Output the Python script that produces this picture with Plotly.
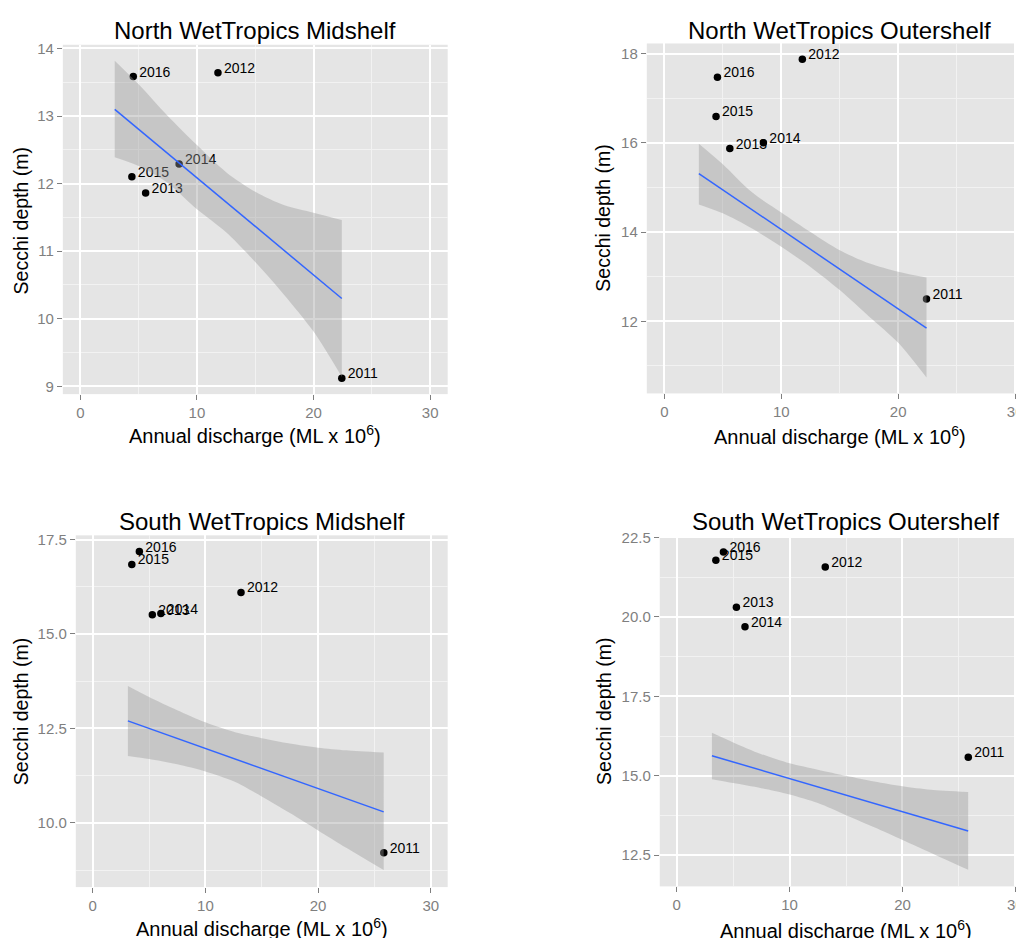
import plotly.graph_objects as go

# page body has an 8px margin; figure sized so that the page fills 1024x938
OFF = 8
WF, HF = 1024 - OFF, 938 - OFF

years = ["2011", "2012", "2013", "2014", "2015", "2016"]

# Annual discharge (ML x 10^6)
north_discharge = [22.42, 11.8, 5.6, 8.47, 4.42, 4.54]
south_discharge = [25.83, 13.16, 5.29, 6.05, 3.47, 4.14]

# Secchi depth (m)
nw_mid_secchi = [9.12, 13.64, 11.86, 12.29, 12.10, 13.585]
nw_outer_secchi = [12.50, 17.87, 15.87, 16.00, 16.59, 17.47]
sw_mid_secchi = [9.21, 16.10, 15.51, 15.54, 16.84, 17.18]
sw_outer_secchi = [15.58, 21.57, 20.30, 19.69, 21.78, 22.04]

# Linear fit lines (end points)
north_fit_x = [2.95, 22.42]
south_fit_x = [3.12, 25.82]
nw_mid_fit = [13.10, 10.30]
nw_outer_fit = [15.31, 11.85]
sw_mid_fit = [12.70, 10.29]
sw_outer_fit = [15.63, 13.26]

# Confidence ribbons
north_band_x = [2.95, 5, 7.5, 10, 12.5, 15, 17.5, 20, 22.42]
nw_mid_upper = [13.82, 13.47, 13.00, 12.57, 12.17, 11.88, 11.68, 11.57, 11.46]
nw_mid_lower = [12.39, 12.26, 12.01, 11.62, 11.28, 10.84, 10.35, 9.81, 9.14]
nw_outer_upper = [15.98, 15.52, 14.89, 14.44, 14.00, 13.59, 13.30, 13.11, 12.98]
nw_outer_lower = [14.62, 14.42, 14.08, 13.67, 13.22, 12.70, 12.11, 11.52, 10.74]

south_band_x = [3.12, 5, 7.5, 10, 12.5, 15, 17.5, 20, 22.5, 25.82]
sw_mid_upper = [13.62, 13.33, 12.98, 12.66, 12.41, 12.24, 12.10, 11.99, 11.92, 11.86]
sw_mid_lower = [11.77, 11.69, 11.55, 11.36, 11.10, 10.70, 10.26, 9.80, 9.34, 8.75]
sw_outer_upper = [16.35, 16.05, 15.68, 15.39, 15.19, 15.00, 14.82, 14.67, 14.56, 14.49]
sw_outer_lower = [14.89, 14.77, 14.61, 14.41, 14.14, 13.76, 13.38, 12.98, 12.58, 12.04]

x_ticks = [0, 10, 20, 30]

FONT = "Liberation Sans, Arial, Helvetica, sans-serif"
GREY_TXT = "#7F7F7F"
LABEL_FS = 14


def px_x(v):
    return (v - OFF) / WF


def px_y(v):
    return 1 - (v - OFF) / HF


panels = [
    dict(title="North WetTropics Midshelf", x=north_discharge, y=nw_mid_secchi,
         fx=north_fit_x, fy=nw_mid_fit, bx=north_band_x, bu=nw_mid_upper, bl=nw_mid_lower,
         box=(63, 38, 449, 390), xr=[-1.5, 31.5], yr=[8.885, 14.055],
         dtick=1, fmt="d", tcx=256, tcy=23.3, xtx=256, xty=431, ytx=21, yty=215),
    dict(title="North WetTropics Outershelf", x=north_discharge, y=nw_outer_secchi,
         fx=north_fit_x, fy=nw_outer_fit, bx=north_band_x, bu=nw_outer_upper, bl=nw_outer_lower,
         box=(648.7, 36.7, 1024, 389.3), xr=[-1.5, 30.5], yr=[10.385, 18.225],
         dtick=2, fmt="d", tcx=842, tcy=23.3, xtx=842, xty=432, ytx=605, yty=213),
    dict(title="South WetTropics Midshelf", x=south_discharge, y=sw_mid_secchi,
         fx=south_fit_x, fy=sw_mid_fit, bx=south_band_x, bu=sw_mid_upper, bl=sw_mid_lower,
         box=(76, 532.3, 449, 886.7), xr=[-1.5, 31.5], yr=[8.30, 17.61],
         dtick=2.5, fmt=".1f", tcx=262.5, tcy=518.5, xtx=262.5, xty=927, ytx=20.5, yty=710),
    dict(title="South WetTropics Outershelf", x=south_discharge, y=sw_outer_secchi,
         fx=south_fit_x, fy=sw_outer_fit, bx=south_band_x, bu=sw_outer_upper, bl=sw_outer_lower,
         box=(661.7, 533, 1024, 886), xr=[-1.5, 30.5], yr=[11.52, 22.54],
         dtick=2.5, fmt=".1f", tcx=848.4, tcy=518.5, xtx=848.4, xty=929, ytx=605, yty=710),
]

fig = go.Figure()
annotations = []
layout = {}

for i, p in enumerate(panels):
    n = "" if i == 0 else str(i + 1)
    xa, ya = "x" + n, "y" + n
    x0, y0, x1, y1 = p["box"]
    xdom = [px_x(x0), min(1.0, px_x(x1))]
    ydom = [px_y(y1), px_y(y0)]
    ppx = (xdom[1] - xdom[0]) * WF / (p["xr"][1] - p["xr"][0])
    ppy = (ydom[1] - ydom[0]) * HF / (p["yr"][1] - p["yr"][0])

    # points
    fig.add_trace(go.Scatter(x=p["x"], y=p["y"], mode="markers", xaxis=xa, yaxis=ya,
                             marker=dict(color="black", size=7.5), showlegend=False,
                             hoverinfo="skip"))
    # year labels (baseline at the point, shifted right)
    fig.add_trace(go.Scatter(x=[v + 6.0 / ppx for v in p["x"]],
                             y=[v + 0.25 * LABEL_FS / ppy for v in p["y"]],
                             text=years, mode="text", textposition="middle right",
                             textfont=dict(family=FONT, size=LABEL_FS, color="black"),
                             xaxis=xa, yaxis=ya, showlegend=False, hoverinfo="skip"))
    # confidence ribbon (lower edge, then upper edge filled to it)
    fig.add_trace(go.Scatter(x=p["bx"], y=p["bl"], mode="lines", xaxis=xa, yaxis=ya,
                             line=dict(width=0, shape="spline", smoothing=0.8),
                             showlegend=False, hoverinfo="skip"))
    fig.add_trace(go.Scatter(x=p["bx"], y=p["bu"], mode="lines", xaxis=xa, yaxis=ya,
                             line=dict(width=0, shape="spline", smoothing=0.8),
                             fill="tonexty", fillcolor="rgba(153,153,153,0.4)",
                             showlegend=False, hoverinfo="skip"))
    # fit line
    fig.add_trace(go.Scatter(x=p["fx"], y=p["fy"], mode="lines", xaxis=xa, yaxis=ya,
                             line=dict(color="#3366FF", width=1.5), showlegend=False,
                             hoverinfo="skip"))

    common = dict(ticks="outside", ticklen=5, tickwidth=1, tickcolor=GREY_TXT,
                  tickfont=dict(family=FONT, size=15, color=GREY_TXT),
                  showgrid=True, gridcolor="white", gridwidth=1.6,
                  zeroline=False, showline=False, fixedrange=True,
                  ticklabeloverflow="allow")
    layout["xaxis" + n] = dict(domain=xdom, range=p["xr"], anchor=ya,
                               tickvals=x_ticks, tickmode="array",
                               minor=dict(tickvals=[5, 15, 25], showgrid=True,
                                          gridcolor="#F2F2F2", gridwidth=0.9, ticks=""),
                               **common)
    layout["yaxis" + n] = dict(domain=ydom, range=p["yr"], anchor=xa,
                               tick0=0, dtick=p["dtick"], tickformat=p["fmt"],
                               minor=dict(tick0=p["dtick"] / 2, dtick=p["dtick"], showgrid=True,
                                          gridcolor="#F2F2F2", gridwidth=0.9, ticks=""),
                               **common)

    annotations.append(dict(text=p["title"], x=px_x(p["tcx"]), y=px_y(p["tcy"]),
                            xref="paper", yref="paper", xanchor="center", yanchor="middle",
                            showarrow=False, font=dict(family=FONT, size=24, color="black")))
    annotations.append(dict(text="Annual discharge (ML x 10<sup>6</sup>)",
                            x=px_x(p["xtx"]), y=px_y(p["xty"]),
                            xref="paper", yref="paper", xanchor="center", yanchor="middle",
                            showarrow=False, font=dict(family=FONT, size=20, color="black")))
    annotations.append(dict(text="Secchi depth (m)", x=px_x(p["ytx"]), y=px_y(p["yty"]),
                            xref="paper", yref="paper", xanchor="center", yanchor="middle",
                            textangle=-90, showarrow=False,
                            font=dict(family=FONT, size=19.5, color="black")))

fig.update_layout(width=WF, height=HF, margin=dict(l=0, r=0, t=0, b=0),
                  paper_bgcolor="white", plot_bgcolor="#E5E5E5",
                  annotations=annotations, showlegend=False, **layout)

fig.write_html("out.html")
